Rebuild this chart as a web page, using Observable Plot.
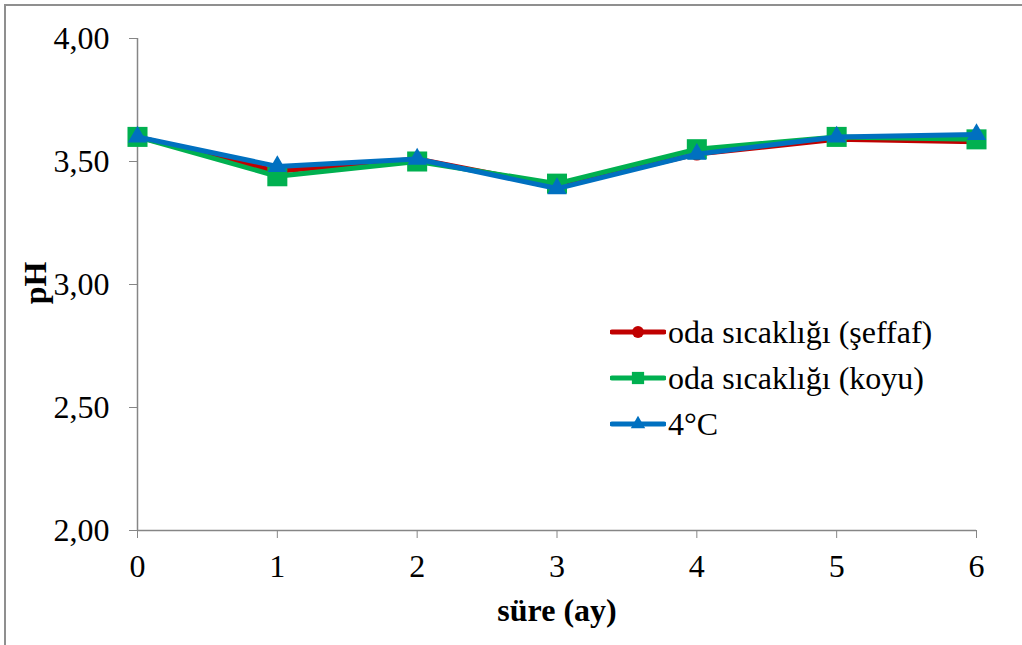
<!DOCTYPE html>
<html>
<head>
<meta charset="utf-8">
<script src="https://cdn.jsdelivr.net/npm/d3@7"></script>
<script src="https://cdn.jsdelivr.net/npm/@observablehq/plot@0.6"></script>
<style>
  body { margin: 0; background: #fff; }
  #wrap { position: relative; width: 1022px; height: 645px; overflow: hidden; font-family: "Liberation Serif", "Times New Roman", "DejaVu Serif", serif; }
  #frame { position: absolute; left: 4px; top: 4px; right: -10px; bottom: -10px; border-top: 2px solid #8f8f8f; border-left: 2px solid #8f8f8f; pointer-events: none; }
  #chart svg { display: block; }
  .axis-title { position: absolute; font-size: 32px; font-weight: bold; color: #000; white-space: nowrap; line-height: 1; }
  #ytitle { left: 35px; top: 283px; transform: translate(-50%, -50%) rotate(-90deg); }
  #xtitle { left: 557px; top: 610px; transform: translate(-50%, -50%); }
  #legend { position: absolute; left: 610px; top: 309px; font-size: 32px; color: #000; }
  #legend .row { display: flex; align-items: center; height: 46px; }
  #legend svg { display: block; margin-right: 2px; }
</style>
</head>
<body>
<div id="wrap">
  <div id="chart"></div>
  <div id="ytitle" class="axis-title"></div>
  <div id="xtitle" class="axis-title"></div>
  <div id="legend"></div>
  <div id="frame"></div>
</div>
<script>
// storage time in months
const months = [0, 1, 2, 3, 4, 5, 6];
// pH readings per storage condition
const phClear = [3.60, 3.46, 3.51, 3.40, 3.53, 3.59, 3.58];
const phDark  = [3.60, 3.44, 3.50, 3.41, 3.55, 3.60, 3.59];
const phCold  = [3.60, 3.48, 3.51, 3.39, 3.53, 3.60, 3.61];
const seriesNames = ["oda sıcaklığı (şeffaf)", "oda sıcaklığı (koyu)", "4°C"];
const yTicks = [2.0, 2.5, 3.0, 3.5, 4.0];
const yTitle = "pH";
const xTitle = "süre (ay)";

const colors = ["#C00000", "#00B050", "#0070C0"];
const symbols = ["circle", "square", "triangle"];
const radii = [6.5, 11.3, 7.2];

const rows = (vals) => months.map((m, i) => ({month: m, ph: vals[i]}));
const seriesData = [phClear, phDark, phCold].map(rows);

const axisGray = "#868686";
const fmt = (d) => d.toFixed(2).replace(".", ",");

const marks = [
  Plot.ruleX([0], {stroke: axisGray, strokeWidth: 1.5}),
  Plot.ruleY([2], {stroke: axisGray, strokeWidth: 1.5}),
  Plot.axisY({ticks: yTicks, tickFormat: fmt, tickSize: 8, tickPadding: 20, stroke: axisGray, fill: "#000", label: null}),
  Plot.axisX({ticks: months, tickFormat: d => String(d), tickSize: 8, tickPadding: 16, stroke: axisGray, fill: "#000", label: null})
];
seriesData.forEach((data, k) => {
  marks.push(Plot.line(data, {x: "month", y: "ph", stroke: colors[k], strokeWidth: 5, strokeLinejoin: "round"}));
  marks.push(Plot.dot(data, {x: "month", y: "ph", symbol: symbols[k], r: radii[k], fill: colors[k], stroke: "none"}));
});

const chart = Plot.plot({
  width: 1022,
  height: 645,
  marginLeft: 137,
  marginRight: 46,
  marginTop: 38,
  marginBottom: 115,
  style: {fontFamily: '"Liberation Serif", "Times New Roman", "DejaVu Serif", serif', fontSize: "32px", color: "#000", background: "transparent", overflow: "visible"},
  x: {domain: [0, 6]},
  y: {domain: [2, 4]},
  marks
});
document.getElementById("chart").appendChild(chart);

d3.select("#ytitle").text(yTitle);
d3.select("#xtitle").text(xTitle);

// legend: a short line with the series marker, then the series name
const legend = d3.select("#legend");
seriesNames.forEach((name, k) => {
  const row = legend.append("div").attr("class", "row");
  const s = row.append("svg").attr("width", 56).attr("height", 30);
  s.append("line").attr("x1", 2).attr("x2", 54).attr("y1", 15).attr("y2", 15)
    .attr("stroke", colors[k]).attr("stroke-width", 5).attr("stroke-linecap", "round");
  const sym = {circle: d3.symbolCircle, square: d3.symbolSquare, triangle: d3.symbolTriangle}[symbols[k]];
  const size = k === 1 ? 150 : (k === 0 ? 110 : 90);
  s.append("path").attr("transform", "translate(28,15)")
    .attr("d", d3.symbol(sym, size)()).attr("fill", colors[k]);
  row.append("span").text(name);
});
</script>
</body>
</html>
